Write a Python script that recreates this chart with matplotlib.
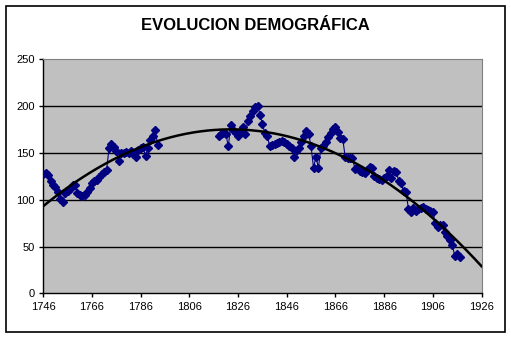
import matplotlib
matplotlib.use("Agg")
from matplotlib import pyplot as plt
from matplotlib.patches import Rectangle
import numpy as np

plt.rcParams['font.family'] = ['Liberation Sans', 'DejaVu Sans']

TITLE = "EVOLUCION DEMOGRÁFICA"

# first run of yearly values, 1746-1793
years_a = list(range(1746, 1794))
vals_a = [128, 129, 126, 120, 116, 114, 108, 101, 98, 107,
          109, 111, 116, 116, 107, 105, 104, 105, 108, 113,
          118, 120, 121, 124, 128, 130, 132, 155, 160, 156,
          152, 141, 150, 150, 151, 150, 152, 149, 146, 153,
          155, 156, 147, 155, 164, 168, 174, 158]

# second run, 1818-1917
years_b = list(range(1818, 1918))
vals_b = [168, 170, 171, 170, 157, 180, 175, 171, 168, 172,
          178, 170, 184, 189, 195, 199, 200, 191, 181, 171,
          168, 157, 158, 160, 161, 162, 163, 162, 160, 157,
          155, 146, 152, 155, 162, 168, 173, 170, 157, 134,
          146, 134, 155, 157, 162, 167, 171, 176, 178, 172,
          166, 165, 146, 145, 145, 145, 133, 134, 131, 130,
          129, 132, 135, 134, 125, 123, 122, 121, 123, 125,
          132, 123, 131, 130, 120, 118, 109, 108, 90, 87,
          91, 88, 90, 91, 92, 90, 89, 88, 87, 75,
          71, 73, 73, 66, 61, 57, 52, 40, 42, 39]

x_ticks = list(range(1746, 1927, 20))
y_ticks = [0, 50, 100, 150, 200, 250]

fig = plt.figure(figsize=(5.11, 3.37), dpi=100)
ax = fig.add_axes([43.3/511, 1-293.4/337, (481.5-43.3)/511, (293.4-59.3)/337])
ax.set_facecolor("#c0c0c0")

# outer chart frame
fig.patches.append(Rectangle((5.5/511, 1-332/337), 499/511, 326.5/337,
                             transform=fig.transFigure, fill=False,
                             edgecolor="black", linewidth=1.2))

for v in y_ticks[1:-1]:
    ax.axhline(v, color="black", linewidth=1.0, zorder=1)

navy = "#000080"
ax.plot(years_a, vals_a, color=navy, linewidth=0.8, marker="D", markersize=3.8,
        markerfacecolor=navy, markeredgecolor=navy, zorder=3)
ax.plot(years_b, vals_b, color=navy, linewidth=0.8, marker="D", markersize=3.8,
        markerfacecolor=navy, markeredgecolor=navy, zorder=3)

# polynomial trendline (order 2), forecast to 1926
xs = np.array(years_a + years_b, dtype=float)
ys = np.array(vals_a + vals_b, dtype=float)
coef = np.polyfit(xs - 1746, ys, 2)
tx = np.linspace(1746, 1926, 300)
ax.plot(tx, np.polyval(coef, tx - 1746), color="black", linewidth=1.8, zorder=4)

ax.set_xlim(1746, 1926)
ax.set_ylim(0, 250)
ax.set_xticks(x_ticks)
ax.set_yticks(y_ticks)
ax.tick_params(direction="out", length=3, width=1, labelsize=8, pad=3)

for s in ["top", "right"]:
    ax.spines[s].set_color("#808080")
for s in ["left", "bottom"]:
    ax.spines[s].set_color("black")
    ax.spines[s].set_linewidth(1.0)

fig.text(0.5, 1-25/337, TITLE, ha="center", va="center",
         fontsize=12, fontweight="bold")

fig.savefig("out.png", dpi=100)
